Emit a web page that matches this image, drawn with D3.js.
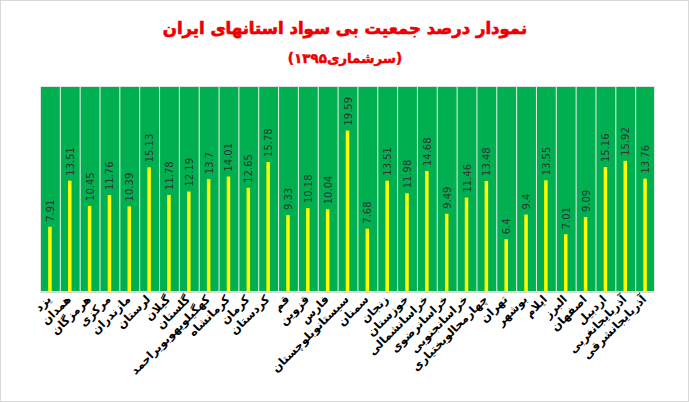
<!DOCTYPE html>
<html>
<head>
<meta charset="utf-8">
<script src="https://cdn.jsdelivr.net/npm/d3@7.9.0/dist/d3.min.js"></script>
<style>
  body { margin: 0; background: #fff; }
  svg { display: block; }
</style>
</head>
<body>
<svg id="chart" width="689" height="402"></svg>
<script>
// provinces, left to right as in the source
const provinces = [
  'یزد', 'همدان', 'هرمزگان', 'مرکزی', 'مازندران', 'لرستان', 'گیلان', 'گلستان',
  'کهگیلویهوبویراحمد', 'کرمانشاه', 'کرمان', 'کردستان', 'قم', 'قزوین', 'فارس',
  'سیستانوبلوچستان', 'سمنان', 'زنجان', 'خوزستان', 'خراسانشمالی', 'خراسانرضوی',
  'خراسانجنوبی', 'چهارمحالوبختیاری', 'تهران', 'بوشهر', 'ایلام', 'البرز',
  'اصفهان', 'اردبیل', 'آذربایجانغربی', 'آذربایجانشرقی'
];
// illiteracy percent, census 1395
const illiteracy = [
  7.91, 13.51, 10.45, 11.76, 10.39, 15.13, 11.78, 12.19,
  13.7, 14.01, 12.65, 15.78, 9.33, 10.18, 10.04,
  19.59, 7.68, 13.51, 11.98, 14.68, 9.49,
  11.46, 13.48, 6.4, 9.4, 13.55, 7.01,
  9.09, 15.16, 15.92, 13.76
];
const titleText = 'نمودار درصد جمعیت بی سواد استانهای ایران';
const subtitleText = '(سرشماری۱۳۹۵)';

const svg = d3.select('#chart');
const W = 689, H = 402;
const plot = { left: 40, right: 655, top: 86, bottom: 292 };

// outer frame
svg.append('rect')
  .attr('x', 0.5).attr('y', 0.5)
  .attr('width', W - 1).attr('height', H - 1)
  .attr('fill', '#fff').attr('stroke', '#d9d9d9');

svg.append('text')
  .attr('x', 345).attr('y', 34)
  .attr('text-anchor', 'middle')
  .attr('font-family', 'DejaVu Sans')
  .attr('font-weight', 'bold')
  .attr('font-size', 16.5)
  .attr('fill', '#ee0000')
  .attr('stroke', '#ee0000').attr('stroke-width', 0.7)
  .text(titleText);

svg.append('text')
  .attr('x', 345).attr('y', 63)
  .attr('text-anchor', 'middle')
  .attr('font-family', 'DejaVu Sans')
  .attr('font-weight', 'bold')
  .attr('font-size', 13.5)
  .attr('fill', '#ee0000')
  .attr('stroke', '#ee0000').attr('stroke-width', 0.5)
  .text(subtitleText);

let x = d3.scaleBand()
  .domain(provinces)
  .range([plot.left, plot.right]);

let y = d3.scaleLinear()
  .domain([0, 25])
  .range([plot.bottom, plot.top]);

// green plot area
svg.append('rect')
  .attr('x', plot.left).attr('y', plot.top)
  .attr('width', plot.right - plot.left)
  .attr('height', plot.bottom - plot.top)
  .attr('fill', '#00b050');

// white separators between categories
svg.append('g')
  .selectAll('line')
  .data(provinces.slice(1))
  .join('line')
  .attr('x1', d => x(d) + 0.5).attr('x2', d => x(d) + 0.5)
  .attr('y1', plot.top).attr('y2', plot.bottom)
  .attr('stroke', '#e8f5ec').attr('stroke-width', 1);

svg.append('rect')
  .attr('x', plot.left + 0.5).attr('y', plot.top + 0.5)
  .attr('width', plot.right - plot.left - 1)
  .attr('height', plot.bottom - plot.top - 1)
  .attr('fill', 'none').attr('stroke', '#dfe9e2');

const barW = 3.5;
svg.append('g')
  .selectAll('rect')
  .data(illiteracy)
  .join('rect')
  .attr('x', (d, i) => x(provinces[i]) + x.bandwidth() / 2 - barW / 2)
  .attr('y', d => y(d))
  .attr('width', barW)
  .attr('height', d => y(0) - y(d))
  .attr('fill', '#ffff00');

// value labels, rotated
svg.append('g')
  .selectAll('text')
  .data(illiteracy)
  .join('text')
  .attr('transform', (d, i) =>
    `translate(${x(provinces[i]) + x.bandwidth() / 2 + 4},${y(d) - 5}) rotate(-90)`)
  .attr('font-family', 'DejaVu Sans')
  .attr('font-size', 10)
  .attr('fill', '#333')
  .text(d => d);

// axis line
svg.append('line')
  .attr('x1', plot.left).attr('x2', plot.right)
  .attr('y1', plot.bottom + 0.5).attr('y2', plot.bottom + 0.5)
  .attr('stroke', '#d9d9d9');

// category labels: each in its own rotated group
svg.append('g')
  .selectAll('g')
  .data(provinces)
  .join('g')
  .attr('transform', d =>
    `translate(${x(d) + x.bandwidth() / 2 + 2},${plot.bottom + 8}) rotate(-45)`)
  .append('text')
  .attr('text-anchor', 'end')
  .attr('font-family', 'DejaVu Sans')
  .attr('font-weight', 'bold')
  .attr('font-size', 11.5)
  .attr('fill', '#000')
  .text(d => d);
</script>
</body>
</html>
